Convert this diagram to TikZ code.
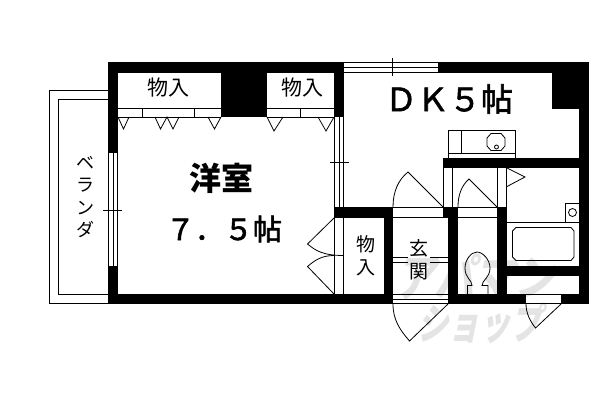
\documentclass[tikz,border=0pt]{standalone}
\usepackage{fontspec}
\setmainfont{Noto Sans CJK JP}
\newfontfamily\fatfont{Noto Sans CJK JP}[FakeBold=2]
\definecolor{wm}{HTML}{E4E4E4}
\tikzset{
 wall/.style={fill=black,draw=none},
 thin line/.style={draw=black,line width=0.8pt},
 lbl/.style={inner sep=0pt,font=\fontsize{21}{21}\selectfont},
 lblv/.style={inner sep=0pt,align=center,font=\fontsize{19}{23}\selectfont},
 big/.style={inner sep=0pt,font=\fontsize{32}{32}\selectfont\bfseries},
 room/.style={inner sep=0pt,font=\fatfont\fontsize{29}{29}\selectfont},
 roomb/.style={inner sep=0pt,font=\fatfont\fontsize{32}{32}\selectfont},
 wmark/.style={inner sep=0pt,text=wm,xslant=0.2,font=\fontsize{50}{50}\selectfont\bfseries}
}
\begin{document}
\begin{tikzpicture}[x=1pt,y=-1pt]
\useasboundingbox (0,0) rectangle (600,400);
\fill[white] (0,0) rectangle (600,400);
% watermark
\node[wmark,xscale=0.8] (wma) at (479,277) {アパマン};
\node[wmark,xscale=0.62,yscale=0.85] (wmb) at (483,323) {ショップ};
% balcony
\draw[thin line] (108,90.5) -- (49.5,90.5) -- (49.5,303.5) -- (108,303.5);
\draw[thin line] (108,99.5) -- (58.5,99.5) -- (58.5,294.5) -- (108,294.5);
% walls
\fill[wall] (108,62) rectangle (344,73);
\fill[wall] (438,62) rectangle (589,73);
\fill[wall] (552,62) rectangle (589,109);
\fill[wall] (579,62) rectangle (589,304);
\fill[wall] (108,62) rectangle (118,153);
\fill[wall] (108,266) rectangle (118,304);
\fill[wall] (108,294) rectangle (393,304);
\fill[wall] (448,294) rectangle (526,304);
\fill[wall] (526,294) rectangle (561,295);
\fill[wall] (561,294) rectangle (589,304);
\fill[wall] (221,62) rectangle (267,117);
\fill[wall] (334,62) rectangle (344,117);
\fill[wall] (334,207) rectangle (393,218);
\fill[wall] (384,207) rectangle (393,304);
\fill[wall] (443,207) rectangle (458,218);
\fill[wall] (448,207) rectangle (458,304);
\fill[wall] (497,207) rectangle (507,304);
\fill[wall] (443,158) rectangle (589,168);
\fill[wall] (507,266) rectangle (589,276);
% windows
\draw[thin line] (344,62.5) -- (438,62.5) (344,67.5) -- (438,67.5) (344,72.5) -- (438,72.5);
\draw[thin line] (392,58) -- (392,76);
\draw[thin line] (108.5,153) -- (108.5,266) (113,153) -- (113,266) (117.5,153) -- (117.5,266);
\draw[thin line] (103,210.5) -- (122,210.5);
\draw[thin line] (334.5,117) -- (334.5,207) (339,117) -- (339,207) (343.5,117) -- (343.5,207);
\draw[thin line] (330,162.5) -- (349,162.5);
% closets
\draw[thin line] (118,108.5) -- (221,108.5) (118,117) -- (221,117);
\draw[thin line] (142.5,108.5) -- (142.5,117) (194.5,108.5) -- (194.5,117);
\draw[thin line] (267,108.5) -- (334,108.5) (267,117) -- (334,117);
\draw[thin line] (300.5,108.5) -- (300.5,117);
\draw[thin line] (118,117) -- (123.5,129) -- (129,117);
\draw[thin line] (155,117) -- (160.5,129) -- (167,117) -- (173,129) -- (179,117);
\draw[thin line] (208,117) -- (214.5,129) -- (221,117);
\draw[thin line] (267,117) -- (274,131) -- (283,117);
\draw[thin line] (318,117) -- (326,131) -- (334,117);
% closet folding door
\draw[thin line] (343.5,218) -- (343.5,294) (334.5,218) -- (334.5,294);
\draw[thin line] (334,218) -- (307.5,244) .. controls (315,250) and (322,255.5) .. (343.5,255.5);
\draw[thin line] (334,294) -- (307.5,266.5) .. controls (315,260) and (322,255.5) .. (334,255.5);
% entrance
\draw[thin line] (393,257.7) -- (408,257.7) (430,257.7) -- (448,257.7);
\draw[thin line] (393,262) -- (408,262) (430,262) -- (448,262);
\draw[thin line] (393,294.5) -- (448,294.5) (393,299) -- (448,299) (393,303.5) -- (448,303.5);
\draw[thin line] (448,304) -- (409.5,341) .. controls (400,330) and (393,320) .. (393,304);
% doors top
\draw[thin line] (393,207.5) -- (443,207.5) (393,217.5) -- (443,217.5);
\draw[thin line] (458,207.5) -- (497,207.5) (458,217.5) -- (497,217.5);
\draw[thin line] (443,207) -- (408,172) .. controls (398,180) and (393,192) .. (393,207);
\draw[thin line] (497,207) -- (469,179) .. controls (461,186) and (458,196) .. (458,207);
\draw[thin line] (443.5,168) -- (443.5,207) (452.5,168) -- (452.5,207);
\draw[thin line] (497.5,168) -- (497.5,207) (506.5,168) -- (506.5,207);
\draw[thin line] (507,168) -- (525,177) -- (507,186.5);
% lower door
\draw[thin line] (561,304) -- (535.5,328) .. controls (530,321) and (526,313) .. (526,304);
\draw[thin line] (526,303.5) -- (561,303.5);
% sink
\draw[thin line] (448.5,158) -- (448.5,130.5) -- (515.5,130.5) -- (515.5,158);
\draw[thin line] (448.5,153) -- (515.5,153) (461.5,130.5) -- (461.5,153);
\draw[thin line] (491,133.5) -- (501,133.5) -- (505,138) -- (505,146) -- (501,150.5) -- (491,150.5) -- (487,146) -- (487,138) -- cycle;
\draw[thin line] (496.5,147) circle (2);
% bath
\draw[thin line] (507,222) -- (579,222);
\draw[thin line] (565.5,222) -- (565.5,203.5) -- (579,203.5);
\draw[thin line] (572.5,212.5) circle (4);
\draw[thin line] (516,227.5) -- (571,227.5) -- (574,231) -- (574,257) -- (571,260.5) -- (516,260.5) -- (512.5,257) -- (512.5,231) -- cycle;
% toilet
\draw[thin line] (467.5,294) -- (467.5,285.5) -- (472,285.5) .. controls (472,280) and (465,278) .. (465,268) .. controls (465,260) and (471,252) .. (477,252) .. controls (483,252) and (490,260) .. (490,268) .. controls (490,278) and (482,280) .. (482,285.5) -- (488,285.5) -- (488,294);
% text
\node[lbl] (c1) at (168,88) {物入};
\node[lbl] (c2) at (302,88) {物入};
\node[lblv] (c3) at (366,256) {物\\入};
\node[lblv] (g) at (419,260) {玄\\関};
\node[lblv,font=\fontsize{18}{22.5}\selectfont] (v) at (85,197) {ベ\\ラ\\ン\\ダ};
\node[big] (r1) at (221,178) {洋室};
\node[room] (r2) at (224,229) {７．５帖};
\node[roomb] (r3) at (449,99) {ＤＫ５帖};
\end{tikzpicture}
\end{document}
